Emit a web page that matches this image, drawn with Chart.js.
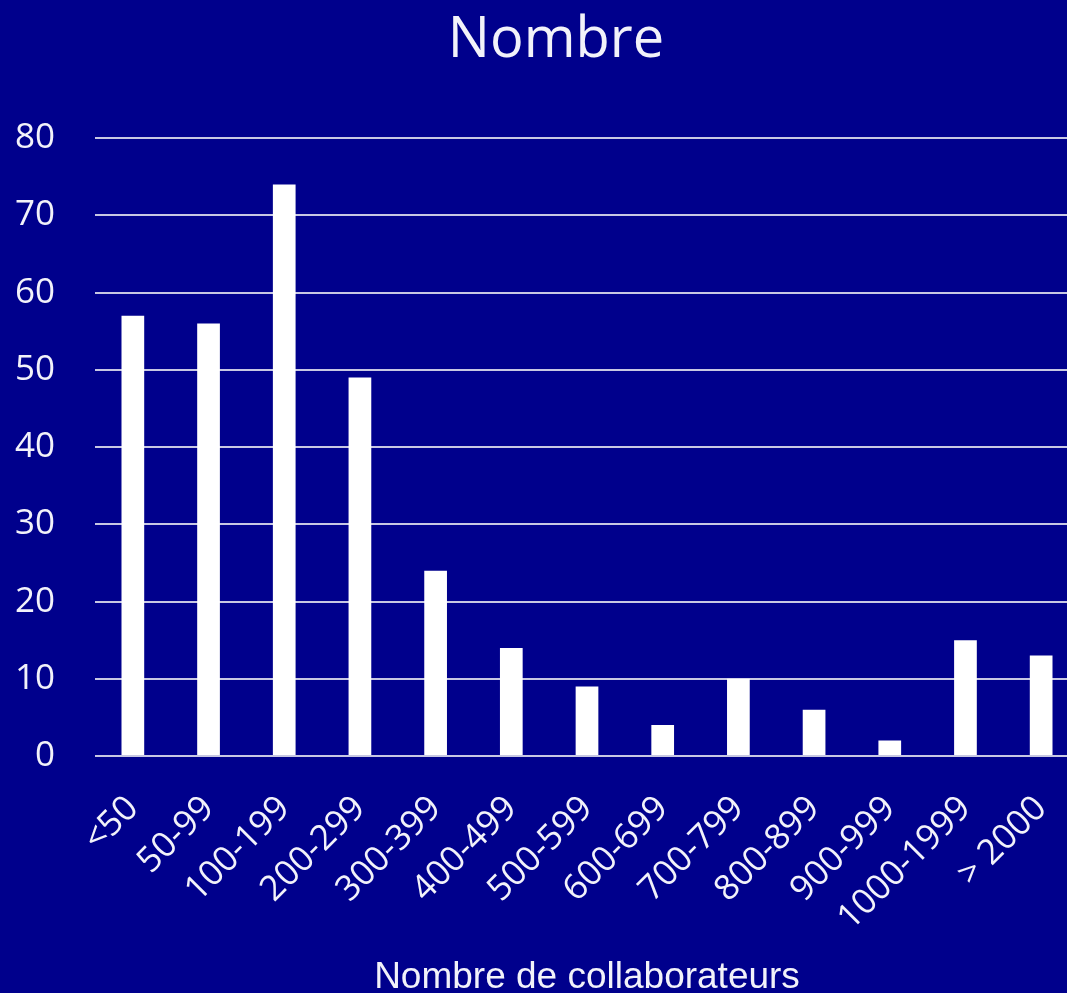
<!DOCTYPE html>
<html>
<head>
<meta charset="utf-8">
<script src="https://cdn.jsdelivr.net/npm/chart.js@4/dist/chart.umd.min.js"></script>
<style>
    html, body { margin: 0; padding: 0; overflow: hidden; background: #00008c; }
    #wrap { width: 1112px; height: 1000px; }
</style>
</head>
<body>
<div id="wrap"><canvas id="barChart" width="1112" height="1000"></canvas></div>
<script>
const categories = ['<50', '50-99', '100-199', '200-299', '300-399', '400-499', '500-599',
    '600-699', '700-799', '800-899', '900-999', '1000-1999', '> 2000'];
const counts = [57, 56, 74, 49, 24, 14, 9, 4, 10, 6, 2, 15, 13];
const yTicks = [0, 10, 20, 30, 40, 50, 60, 70, 80];

const chartTitle = 'Nombre';
const xTitle = 'Nombre de collaborateurs';

const textColor = '#f2f2fa';

// paint the dark blue background behind everything
const background = {
    id: 'background',
    beforeDraw(chart) {
        const ctx = chart.ctx;
        ctx.save();
        ctx.fillStyle = '#00008c';
        ctx.fillRect(0, 0, chart.width, chart.height);
        ctx.restore();
    }
};

function initChart() {
    const ctx = document.getElementById('barChart').getContext('2d');
    new Chart(ctx, {
        type: 'bar',
        data: {
            labels: categories,
            datasets: [{
                label: chartTitle,
                data: counts,
                backgroundColor: '#ffffff',
                borderWidth: 0,
                categoryPercentage: 1,
                barPercentage: 0.3
            }]
        },
        options: {
            responsive: false,
            animation: false,
            layout: { padding: 0 },
            plugins: {
                legend: { display: false },
                tooltip: { enabled: false },
                title: {
                    display: true,
                    text: chartTitle,
                    color: textColor,
                    font: { family: 'Open Sans', size: 56, weight: 'normal', lineHeight: 1.2 },
                    padding: { top: 7, bottom: 64 }
                }
            },
            scales: {
                x: {
                    grid: { display: false },
                    border: { display: false },
                    ticks: {
                        color: textColor,
                        font: { family: 'Open Sans', size: 35 },
                        minRotation: 45,
                        maxRotation: 45,
                        autoSkip: false,
                        padding: 24
                    },
                    title: {
                        display: true,
                        text: xTitle,
                        color: textColor,
                        font: { family: 'Liberation Sans', size: 37, lineHeight: 1 },
                        padding: { top: 0, bottom: 4 }
                    },
                    afterFit(axis) { axis.height = 244; }
                },
                y: {
                    min: 0,
                    max: 80,
                    afterBuildTicks(axis) { axis.ticks = yTicks.map(v => ({ value: v })); },
                    grid: {
                        color: 'rgba(210,210,232,0.95)',
                        lineWidth: 2,
                        drawTicks: false
                    },
                    border: { display: false },
                    ticks: {
                        color: textColor,
                        font: { family: 'Open Sans', size: 35 },
                        padding: 40
                    },
                    afterFit(axis) { axis.width = 95; }
                },
                // empty right-hand axis, only reserves the strip past the last bar
                yRight: {
                    position: 'right',
                    min: 0,
                    max: 80,
                    grid: { display: false },
                    border: { display: false },
                    ticks: { display: false },
                    afterFit(axis) { axis.width = 33; }
                }
            }
        },
        plugins: [background]
    });
}

window.onload = () => {
    initChart();
};
</script>
</body>
</html>
